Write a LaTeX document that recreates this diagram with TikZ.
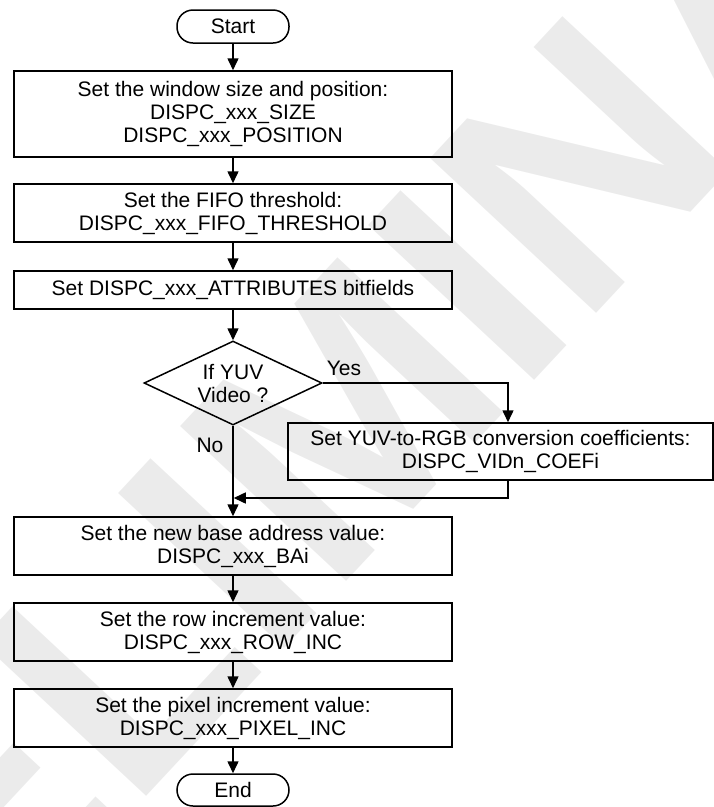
\documentclass[tikz,border=0pt]{standalone}
\usepackage{fontspec}
\setmainfont{Liberation Sans}
\usetikzlibrary{arrows.meta,shapes.geometric}
\begin{document}
\begin{tikzpicture}[x=1pt,y=-1pt,
  every node/.style={font=\fontsize{21}{23}\selectfont},
  arr/.style={line width=1.5pt,-{Triangle[width=11pt,length=12pt]}},
  procbox/.style={draw,line width=1.5pt,minimum width=438pt,align=center,inner sep=0pt},
  term/.style={draw,line width=1.5pt,rounded corners=16pt,minimum width=112pt,minimum height=33pt,inner sep=0pt},
  dec/.style={draw,line width=1.5pt,diamond,aspect=2.1,minimum width=178pt,minimum height=84pt,inner sep=0pt,align=center},
  lbl/.style={inner sep=0pt},
  wmark/.style={text=black!8,font=\fontsize{330}{330}\bfseries\selectfont,inner sep=0pt}]
\useasboundingbox (0,0) rectangle (714,807);
\begin{scope}
\clip (0,0) rectangle (714,807);
\node[wmark,rotate=47] (wm) at (357,404) {PRELIMINARY};
\end{scope}
\node[term] (start) at (233,26.5) {Start};
\node[procbox,minimum height=86pt] (b1) at (233,114) {Set the window size and position:\\DISPC\_xxx\_SIZE\\DISPC\_xxx\_POSITION};
\node[procbox,minimum height=58pt] (b2) at (233,213) {Set the FIFO threshold:\\DISPC\_xxx\_FIFO\_THRESHOLD};
\node[procbox,minimum height=38pt] (b3) at (233,290) {Set DISPC\_xxx\_ATTRIBUTES bitfields};
\node[dec] (dec) at (233,383) {If YUV\\Video ?};
\node[procbox,minimum width=425pt,minimum height=57pt] (b4) at (500.5,451.5) {Set YUV-to-RGB conversion coefficients:\\DISPC\_VIDn\_COEFi};
\node[procbox,minimum height=58pt] (b5) at (233,546) {Set the new base address value:\\DISPC\_xxx\_BAi};
\node[procbox,minimum height=58pt] (b6) at (233,632) {Set the row increment value:\\DISPC\_xxx\_ROW\_INC};
\node[procbox,minimum height=58pt] (b7) at (233,718) {Set the pixel increment value:\\DISPC\_xxx\_PIXEL\_INC};
\node[term,minimum height=32pt] (end) at (233,790) {End};
\node[lbl] (yes) at (344,368) {Yes};
\node[lbl] (no) at (210,445) {No};
\coordinate (m) at (233,498);
\draw[arr] (start) -- (b1);
\draw[arr] (b1) -- (b2);
\draw[arr] (b2) -- (b3);
\draw[arr] (b3) -- (dec);
\draw[arr] (dec.east) -| ([xshift=7.5pt]b4.north);
\draw[arr,shorten >=0.75pt] ([xshift=7.5pt]b4.south) |- (m);
\draw[arr] (dec.south) -- (b5.north);
\draw[arr] (b5) -- (b6);
\draw[arr] (b6) -- (b7);
\draw[arr] (b7) -- (end);
\end{tikzpicture}
\end{document}
